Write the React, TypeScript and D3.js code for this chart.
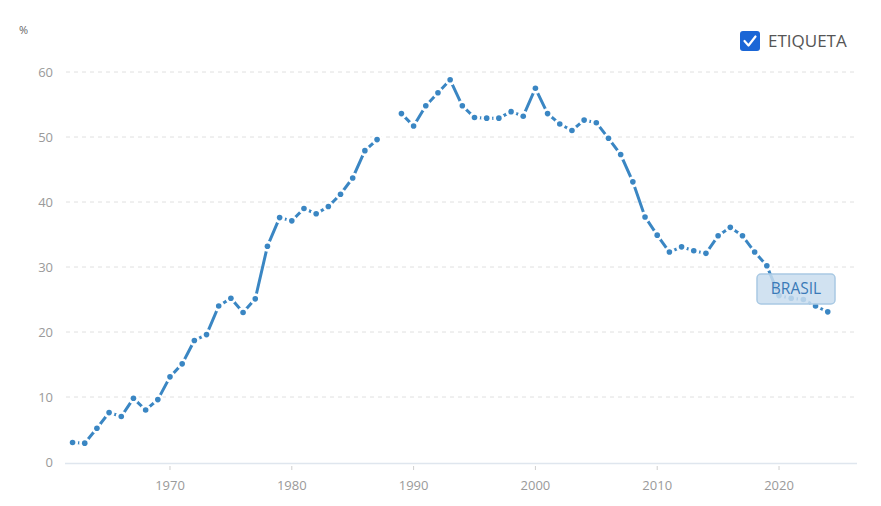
import * as d3 from "d3";
import { useEffect, useRef } from "react";

const startYear = 1962;
const values: (number | null)[] = [
  3.0, 2.9, 5.2, 7.6, 7.0, 9.8, 8.0, 9.6, 13.1, 15.1, 18.7, 19.6, 24.0, 25.2,
  23.0, 25.1, 33.2, 37.6, 37.1, 39.0, 38.2, 39.3, 41.2, 43.7, 47.9, 49.6, null,
  53.6, 51.7, 54.8, 56.8, 58.8, 54.8, 53.0, 52.9, 52.9, 53.9, 53.2, 57.5, 53.6,
  52.0, 51.0, 52.6, 52.2, 49.8, 47.3, 43.1, 37.7, 34.9, 32.3, 33.1, 32.5, 32.1,
  34.8, 36.1, 34.8, 32.3, 30.2, 25.6, 25.2, 25.0, 24.0, 23.1,
];
const yTicks = [0, 10, 20, 30, 40, 50, 60];
const xTicks = [1970, 1980, 1990, 2000, 2010, 2020];
const seriesName = "BRASIL";
const legendLabel = "ETIQUETA";
const unitLabel = "%";

type Point = { year: number; value: number | null };

const data: Point[] = values.map((v, i) => ({ year: startYear + i, value: v }));

const width = 881;
const height = 506;
const lineColor = "#3a86c3";
const font = "'Open Sans', sans-serif";

export default function App() {
  const ref = useRef<SVGSVGElement>(null);

  useEffect(() => {
    if (!ref.current) return;
    const svg = d3.select(ref.current);
    svg.selectAll("*").remove();

    const x = d3.scaleLinear().domain([1961.38, 2026.32]).range([65, 856]);
    const y = d3.scaleLinear().domain([0, 60]).range([462, 72]);

    // grid
    svg
      .append("g")
      .selectAll("line")
      .data(yTicks.filter((t) => t > 0))
      .enter()
      .append("line")
      .attr("x1", 66)
      .attr("x2", 856)
      .attr("y1", (d) => y(d))
      .attr("y2", (d) => y(d))
      .attr("stroke", "#e0e0e0")
      .attr("stroke-width", 1)
      .attr("stroke-dasharray", "4,4");

    // y labels
    svg
      .append("g")
      .selectAll("text")
      .data(yTicks)
      .enter()
      .append("text")
      .attr("x", 53)
      .attr("y", (d) => y(d))
      .attr("dy", "0.35em")
      .attr("text-anchor", "end")
      .attr("font-family", font)
      .attr("font-size", 13)
      .attr("fill", "#9a9a9a")
      .text((d) => d);

    svg
      .append("text")
      .attr("x", 19)
      .attr("y", 34)
      .attr("font-family", font)
      .attr("font-size", 11)
      .attr("fill", "#666")
      .text(unitLabel);

    // x axis
    svg
      .append("line")
      .attr("x1", 65)
      .attr("x2", 857)
      .attr("y1", 463.5)
      .attr("y2", 463.5)
      .attr("stroke", "#dfe6ee")
      .attr("stroke-width", 1.5);

    const xg = svg.append("g");
    xg.selectAll("line")
      .data(xTicks)
      .enter()
      .append("line")
      .attr("x1", (d) => x(d))
      .attr("x2", (d) => x(d))
      .attr("y1", 466)
      .attr("y2", 470)
      .attr("stroke", "#cfcfcf");
    xg.selectAll("text")
      .data(xTicks)
      .enter()
      .append("text")
      .attr("x", (d) => x(d))
      .attr("y", 490)
      .attr("text-anchor", "middle")
      .attr("font-family", font)
      .attr("font-size", 13)
      .attr("fill", "#9a9a9a")
      .text((d) => d);

    // line
    const line = d3
      .line<Point>()
      .defined((d) => d.value !== null)
      .x((d) => x(d.year))
      .y((d) => y(d.value as number));

    svg
      .append("path")
      .datum(data)
      .attr("d", line)
      .attr("fill", "none")
      .attr("stroke", lineColor)
      .attr("stroke-width", 3);

    svg
      .append("g")
      .selectAll("circle")
      .data(data.filter((d) => d.value !== null))
      .enter()
      .append("circle")
      .attr("cx", (d) => x(d.year))
      .attr("cy", (d) => y(d.value as number))
      .attr("r", 2.8)
      .attr("fill", lineColor)
      .attr("stroke", "#fff")
      .attr("stroke-width", 5.5)
      .attr("paint-order", "stroke");

    // series label
    const lab = svg.append("g");
    lab
      .append("rect")
      .attr("x", 757)
      .attr("y", 274)
      .attr("width", 78)
      .attr("height", 30)
      .attr("rx", 4)
      .attr("fill", "#c9ddef")
      .attr("fill-opacity", 0.85)
      .attr("stroke", "#a9c9e3")
      .attr("stroke-width", 1.5);
    lab
      .append("text")
      .attr("x", 796)
      .attr("y", 289)
      .attr("dy", "0.35em")
      .attr("text-anchor", "middle")
      .attr("font-family", font)
      .attr("font-size", 15.5)
      .attr("fill", "#3a7ab8")
      .text(seriesName);

    // legend
    const lg = svg.append("g");
    lg.append("rect")
      .attr("x", 740)
      .attr("y", 31)
      .attr("width", 20)
      .attr("height", 20)
      .attr("rx", 3)
      .attr("fill", "#1a66d6");
    lg.append("path")
      .attr("d", "M744.5,41 L748.5,45.5 L755.5,36.5")
      .attr("fill", "none")
      .attr("stroke", "#fff")
      .attr("stroke-width", 2.2)
      .attr("stroke-linecap", "round")
      .attr("stroke-linejoin", "round");
    lg.append("text")
      .attr("x", 768)
      .attr("y", 41)
      .attr("dy", "0.35em")
      .attr("font-family", font)
      .attr("font-size", 17)
      .attr("fill", "#555")
      .text(legendLabel);
  }, []);

  return (
    <svg
      ref={ref}
      width={width}
      height={height}
      style={{ position: "absolute", left: 0, top: 0, background: "#fff" }}
    />
  );
}
